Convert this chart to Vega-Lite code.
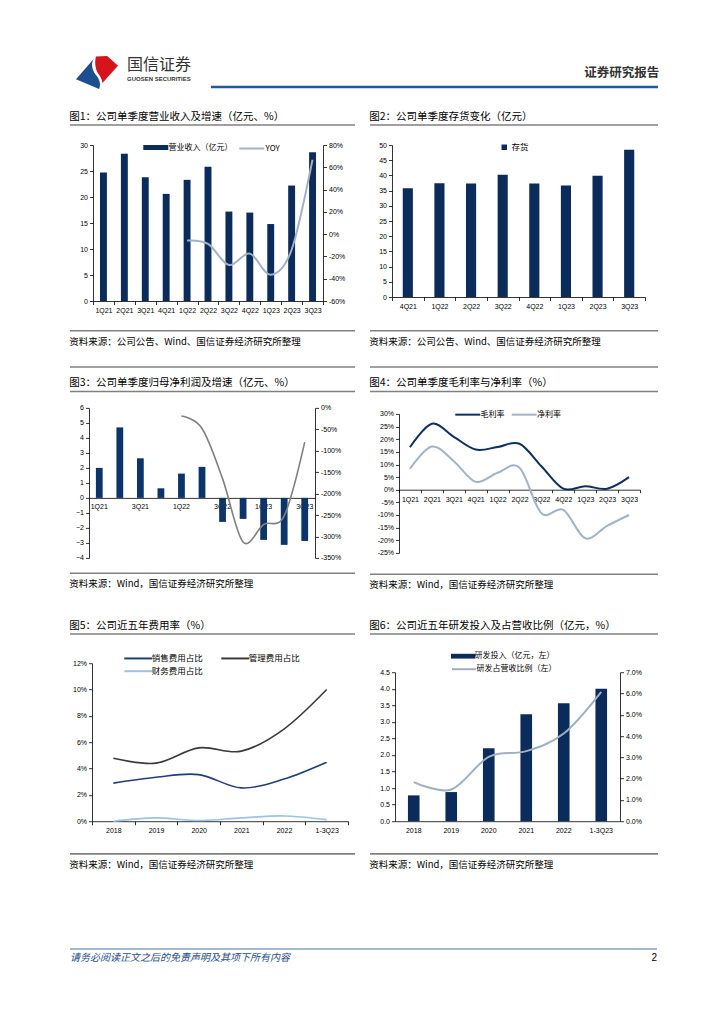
{
"$schema": "https://vega.github.io/schema/vega-lite/v6.json",
"padding": {"left": 69, "top": 55, "right": 10, "bottom": 10},
"config": {
 "view": {"stroke": null},
 "font": "Noto Sans CJK SC",
 "title": {"anchor": "start", "font": "Noto Sans CJK SC", "fontSize": 10.5, "fontWeight": "normal", "color": "#000", "offset": 2},
 "axis": {"labelFont": "Liberation Sans", "labelFontSize": 7, "labelColor": "#000", "domainColor": "#000", "tickColor": "#000", "domainWidth": 0.8, "tickWidth": 0.8, "tickSize": 3.5, "labelPadding": 2, "grid": false, "labelAngle": 0},
 "legend": {"labelFont": "Noto Sans CJK SC", "labelFontSize": 8, "labelColor": "#000", "padding": 0, "labelOffset": 3}
},
"datasets": {
 "logo": [{"part": "blue"}, {"part": "red"}],
 "c1": [
  {"q": "1Q21", "rev": 24.7}, {"q": "2Q21", "rev": 28.3}, {"q": "3Q21", "rev": 23.8}, {"q": "4Q21", "rev": 20.6},
  {"q": "1Q22", "rev": 23.3, "yoy": -5.7}, {"q": "2Q22", "rev": 25.8, "yoy": -8.8}, {"q": "3Q22", "rev": 17.2, "yoy": -27.7},
  {"q": "4Q22", "rev": 17.0, "yoy": -17.5}, {"q": "1Q23", "rev": 14.8, "yoy": -36.5}, {"q": "2Q23", "rev": 22.2, "yoy": -14.0},
  {"q": "3Q23", "rev": 28.6, "yoy": 67.0}
 ],
 "c2": [
  {"q": "4Q21", "inv": 35.8}, {"q": "1Q22", "inv": 37.4}, {"q": "2Q22", "inv": 37.3}, {"q": "3Q22", "inv": 40.2},
  {"q": "4Q22", "inv": 37.3}, {"q": "1Q23", "inv": 36.7}, {"q": "2Q23", "inv": 39.9}, {"q": "3Q23", "inv": 48.4}
 ],
 "c3": [
  {"q": "1Q21", "np": 2.0}, {"q": "2Q21", "np": 4.7}, {"q": "3Q21", "np": 2.64}, {"q": "4Q21", "np": 0.64},
  {"q": "1Q22", "np": 1.62, "g": -19}, {"q": "2Q22", "np": 2.07, "g": -48}, {"q": "3Q22", "np": -1.6, "g": -165},
  {"q": "4Q22", "np": -1.4, "g": -313}, {"q": "1Q23", "np": -2.8, "g": -272}, {"q": "2Q23", "np": -3.13, "g": -252},
  {"q": "3Q23", "np": -2.87, "g": -80}
 ],
 "c4": [
  {"q": "1Q21", "s": "毛利率", "v": 16.8}, {"q": "2Q21", "s": "毛利率", "v": 26.1}, {"q": "3Q21", "s": "毛利率", "v": 20.9},
  {"q": "4Q21", "s": "毛利率", "v": 15.9}, {"q": "1Q22", "s": "毛利率", "v": 16.9}, {"q": "2Q22", "s": "毛利率", "v": 18.2},
  {"q": "3Q22", "s": "毛利率", "v": 9.3}, {"q": "4Q22", "s": "毛利率", "v": 0.4}, {"q": "1Q23", "s": "毛利率", "v": 1.4},
  {"q": "2Q23", "s": "毛利率", "v": 0.4}, {"q": "3Q23", "s": "毛利率", "v": 5.0},
  {"q": "1Q21", "s": "净利率", "v": 8.3}, {"q": "2Q21", "s": "净利率", "v": 17.1}, {"q": "3Q21", "s": "净利率", "v": 11.3},
  {"q": "4Q21", "s": "净利率", "v": 3.1}, {"q": "1Q22", "s": "净利率", "v": 6.7}, {"q": "2Q22", "s": "净利率", "v": 8.7},
  {"q": "3Q22", "s": "净利率", "v": -9.3}, {"q": "4Q22", "s": "净利率", "v": -8.0}, {"q": "1Q23", "s": "净利率", "v": -19.2},
  {"q": "2Q23", "s": "净利率", "v": -14.3}, {"q": "3Q23", "s": "净利率", "v": -10.0}
 ],
 "c5": [
  {"yr": "2018", "s": "销售费用占比", "v": 2.89}, {"yr": "2019", "s": "销售费用占比", "v": 3.34}, {"yr": "2020", "s": "销售费用占比", "v": 3.54},
  {"yr": "2021", "s": "销售费用占比", "v": 2.53}, {"yr": "2022", "s": "销售费用占比", "v": 3.2}, {"yr": "1-3Q23", "s": "销售费用占比", "v": 4.48},
  {"yr": "2018", "s": "管理费用占比", "v": 4.78}, {"yr": "2019", "s": "管理费用占比", "v": 4.41}, {"yr": "2020", "s": "管理费用占比", "v": 5.57},
  {"yr": "2021", "s": "管理费用占比", "v": 5.32}, {"yr": "2022", "s": "管理费用占比", "v": 7.0}, {"yr": "1-3Q23", "s": "管理费用占比", "v": 10.0},
  {"yr": "2018", "s": "财务费用占比", "v": 0.0}, {"yr": "2019", "s": "财务费用占比", "v": 0.25}, {"yr": "2020", "s": "财务费用占比", "v": 0.05},
  {"yr": "2021", "s": "财务费用占比", "v": 0.25}, {"yr": "2022", "s": "财务费用占比", "v": 0.4}, {"yr": "1-3Q23", "s": "财务费用占比", "v": 0.12}
 ],
 "c6": [
  {"yr": "2018", "rd": 0.78, "r": 1.84}, {"yr": "2019", "rd": 0.88, "r": 1.49}, {"yr": "2020", "rd": 2.2, "r": 3.02},
  {"yr": "2021", "rd": 3.23, "r": 3.29}, {"yr": "2022", "rd": 3.56, "r": 4.12}, {"yr": "1-3Q23", "rd": 4.0, "r": 6.08}
 ]
},
"spacing": 21,
"align": "none",
"resolve": {"scale": {"color": "independent", "stroke": "independent", "shape": "independent"}, "legend": {"color": "independent", "stroke": "independent", "shape": "independent"}},
"vconcat": [
 {"hconcat": [
   {"width": 54, "height": 33, "data": {"name": "logo"},
    "mark": {"type": "point", "filled": true, "size": 1764, "opacity": 1, "strokeWidth": 0},
    "encoding": {
     "shape": {"field": "part", "type": "nominal", "legend": null, "scale": {"domain": ["blue", "red"], "range": ["M-1,0.32L-0.14,-0.67C-0.3,-0.45,-0.25,-0.15,-0.05,0.12C0.12,0.32,0.2,0.55,0.1,0.79Z", "M-0.05,-0.76L0.48,-0.79L0.58,-0.7L1,-0.32L0.26,0.5C0.24,0.3,0.14,0.15,0.04,0.02C-0.08,-0.18,-0.12,-0.5,-0.05,-0.76Z"]}},
     "color": {"field": "part", "type": "nominal", "legend": null, "scale": {"domain": ["blue", "red"], "range": ["#1b4f8e", "#d7141c"]}}
    }},
   {"width": 79, "height": 33, "data": {"values": [{"v": 0}]},
    "mark": {"type": "rule", "opacity": 0},
    "encoding": {"y": {"field": "v", "type": "quantitative", "scale": {"domain": [0, 1]}, "axis": null}},
    "title": {"text": "国信证券", "subtitle": "GUOSEN SECURITIES", "anchor": "start", "offset": -26, "fontSize": 16, "color": "#333", "subtitleFont": "Liberation Sans", "subtitleFontSize": 6, "subtitleFontWeight": "bold", "subtitleColor": "#333", "subtitlePadding": 3}},
   {"width": 447, "height": 31, "data": {"values": [{"v": 0}]},
    "mark": {"type": "rule", "color": "#1f5a96", "strokeWidth": 2.5},
    "encoding": {"y": {"field": "v", "type": "quantitative", "scale": {"domain": [0, 1]}, "axis": null}},
    "title": {"text": "证券研究报告", "anchor": "end", "offset": -23, "fontSize": 12.5, "fontWeight": "bold", "color": "#333"}}
  ], "spacing": 3, "align": "none",
  "resolve": {"scale": {"color": "independent", "stroke": "independent", "shape": "independent"}, "legend": {"color": "independent", "stroke": "independent", "shape": "independent"}}},
 {"spacing": 19, "align": "none",
  "resolve": {"scale": {"color": "independent", "stroke": "independent", "shape": "independent"}, "legend": {"color": "independent", "stroke": "independent", "shape": "independent"}},
  "vconcat": [
  {"spacing": 13, "align": "none",
   "resolve": {"scale": {"color": "independent", "stroke": "independent", "shape": "independent"}, "legend": {"color": "independent", "stroke": "independent", "shape": "independent"}},
   "hconcat": [
   {"spacing": 15, "align": "none",
    "resolve": {"scale": {"color": "independent", "stroke": "independent", "shape": "independent"}, "legend": {"color": "independent", "stroke": "independent", "shape": "independent"}},
    "vconcat": [
    {"width": 285, "height": 1, "data": {"values": [{"v": 0}]}, "mark": {"type": "rule", "color": "#808080", "strokeWidth": 1.6},
     "encoding": {"y": {"field": "v", "type": "quantitative", "scale": {"domain": [0, 1]}, "axis": null}},
     "title": {"text": "图1：公司单季度营业收入及增速（亿元、%）"}},
    {"spacing": 15.7, "align": "none",
     "resolve": {"scale": {"color": "independent", "stroke": "independent", "shape": "independent"}, "legend": {"color": "independent", "stroke": "independent", "shape": "independent"}},
     "vconcat": [
     {"hconcat": [
      {"width": 1, "height": 1, "data": {"values": [{"v": 0}]}, "mark": {"type": "rule", "opacity": 0},
       "encoding": {"y": {"field": "v", "type": "quantitative", "scale": {"domain": [0, 1]}, "axis": null}}},
      {"width": 230, "height": 156, "data": {"name": "c1"},
      "layer": [
       {"mark": {"type": "bar", "width": {"band": 0.33}},
        "encoding": {
         "x": {"field": "q", "type": "nominal", "sort": null, "title": null, "scale": {"paddingInner": 0, "paddingOuter": 0}, "axis": {"tickBand": "extent", "labelAngle": 0}},
         "y": {"field": "rev", "type": "quantitative", "title": null, "scale": {"domain": [0, 30]}, "axis": {"values": [0, 5, 10, 15, 20, 25, 30], "minExtent": 22}},
         "color": {"datum": "营业收入（亿元）", "scale": {"range": ["#0b2b5b"]}, "legend": {"orient": "none", "legendX": 58.3, "legendY": -2, "title": null, "symbolType": "M-3,-0.6L3,-0.6L3,0.6L-3,0.6Z", "symbolSize": 69.4, "symbolStrokeWidth": 0, "labelOffset": 8.3}}
        }},
       {"mark": {"type": "line", "interpolate": "cardinal", "strokeWidth": 2},
        "encoding": {
         "x": {"field": "q", "type": "nominal", "sort": null, "title": null, "bandPosition": 0.5},
         "y": {"field": "yoy", "type": "quantitative", "title": null, "scale": {"domain": [-60, 80]}, "axis": {"orient": "right", "values": [-60, -40, -20, 0, 20, 40, 60, 80], "labelExpr": "datum.value + '%'"}},
         "stroke": {"datum": "YOY", "scale": {"range": ["#a3b2c3"]}, "legend": {"orient": "none", "legendX": 153.3, "legendY": -2, "title": null, "symbolType": "M-3,0L3,0", "symbolSize": 69.4, "symbolStrokeWidth": 2, "labelOffset": 8.3}}
        }}
      ],
      "resolve": {"scale": {"y": "independent"}}}
     ], "spacing": 0, "align": "none",
     "resolve": {"scale": {"color": "independent", "stroke": "independent", "shape": "independent"}, "legend": {"color": "independent", "stroke": "independent", "shape": "independent"}}},
     {"width": 285, "height": 1, "data": {"values": [{"v": 1}]}, "mark": {"type": "rule", "color": "#808080", "strokeWidth": 1.6},
      "encoding": {"y": {"field": "v", "type": "quantitative", "scale": {"domain": [0, 1]}, "axis": null}},
      "title": {"text": "资料来源：公司公告、Wind、国信证券经济研究所整理", "orient": "bottom", "offset": 5, "fontSize": 9.5}}
    ]}
   ]},
   {"spacing": 15, "align": "none",
    "resolve": {"scale": {"color": "independent", "stroke": "independent", "shape": "independent"}, "legend": {"color": "independent", "stroke": "independent", "shape": "independent"}},
    "vconcat": [
    {"width": 288, "height": 1, "data": {"values": [{"v": 0}]}, "mark": {"type": "rule", "color": "#808080", "strokeWidth": 1.6},
     "encoding": {"y": {"field": "v", "type": "quantitative", "scale": {"domain": [0, 1]}, "axis": null}},
     "title": {"text": "图2：公司单季度存货变化（亿元）"}},
    {"spacing": 19.7, "align": "none",
     "resolve": {"scale": {"color": "independent", "stroke": "independent", "shape": "independent"}, "legend": {"color": "independent", "stroke": "independent", "shape": "independent"}},
     "vconcat": [
     {"hconcat": [
      {"width": 1, "height": 1, "data": {"values": [{"v": 0}]}, "mark": {"type": "rule", "opacity": 0},
       "encoding": {"y": {"field": "v", "type": "quantitative", "scale": {"domain": [0, 1]}, "axis": null}}},
      {"width": 253, "height": 152, "data": {"name": "c2"},
      "mark": {"type": "bar", "width": {"band": 0.32}},
      "encoding": {
       "x": {"field": "q", "type": "nominal", "sort": null, "title": null, "scale": {"paddingInner": 0, "paddingOuter": 0}, "axis": {"tickBand": "extent", "labelAngle": 0}},
       "y": {"field": "inv", "type": "quantitative", "title": null, "scale": {"domain": [0, 50]}, "axis": {"values": [0, 5, 10, 15, 20, 25, 30, 35, 40, 45, 50], "minExtent": 21}},
       "color": {"datum": "存货", "scale": {"range": ["#0b2b5b"]}, "legend": {"orient": "none", "legendX": 108, "legendY": -2, "title": null, "symbolType": "square", "symbolSize": 30, "symbolStrokeWidth": 0, "labelFontSize": 8.5}}
      }}
     ], "spacing": 0, "align": "none",
     "resolve": {"scale": {"color": "independent", "stroke": "independent", "shape": "independent"}, "legend": {"color": "independent", "stroke": "independent", "shape": "independent"}}},
     {"width": 288, "height": 1, "data": {"values": [{"v": 1}]}, "mark": {"type": "rule", "color": "#808080", "strokeWidth": 1.6},
      "encoding": {"y": {"field": "v", "type": "quantitative", "scale": {"domain": [0, 1]}, "axis": null}},
      "title": {"text": "资料来源：公司公告、Wind、国信证券经济研究所整理", "orient": "bottom", "offset": 5, "fontSize": 9.5}}
    ]}
   ]}
  ]},
  {"spacing": 30, "align": "none",
   "resolve": {"scale": {"color": "independent", "stroke": "independent", "shape": "independent"}, "legend": {"color": "independent", "stroke": "independent", "shape": "independent"}},
   "vconcat": [
   {"spacing": 13, "align": "none",
    "resolve": {"scale": {"color": "independent", "stroke": "independent", "shape": "independent"}, "legend": {"color": "independent", "stroke": "independent", "shape": "independent"}},
    "hconcat": [
    {"spacing": 9.5, "align": "none", "vconcat": [
     {"width": 285, "height": 1, "data": {"values": [{"v": 1}]}, "mark": {"type": "rule", "color": "#808080", "strokeWidth": 1.6},
      "encoding": {"y": {"field": "v", "type": "quantitative", "scale": {"domain": [0, 1]}, "axis": null}}},
     {"spacing": 11.4, "align": "none", "vconcat": [
      {"width": 285, "height": 1, "data": {"values": [{"v": 0}]}, "mark": {"type": "rule", "color": "#808080", "strokeWidth": 1.6},
       "encoding": {"y": {"field": "v", "type": "quantitative", "scale": {"domain": [0, 1]}, "axis": null}},
       "title": {"text": "图3：公司单季度归母净利润及增速（亿元、%）"}},
      {"spacing": 11.4, "align": "none", "vconcat": [
       {"hconcat": [
        {"width": 1, "height": 1, "data": {"values": [{"v": 0}]}, "mark": {"type": "rule", "opacity": 0},
         "encoding": {"y": {"field": "v", "type": "quantitative", "scale": {"domain": [0, 1]}, "axis": null}}},
        {"width": 226, "height": 150, "data": {"name": "c3"},
        "layer": [
         {"mark": {"type": "bar", "width": {"band": 0.33}, "color": "#0c3468"},
          "encoding": {
           "x": {"field": "q", "type": "nominal", "sort": null, "title": null, "scale": {"paddingInner": 0, "paddingOuter": 0}, "axis": {"offset": -60, "ticks": false, "labelPadding": 5, "values": ["1Q21", "3Q21", "1Q22", "3Q22", "1Q23", "3Q23"], "labelAngle": 0}},
           "y": {"field": "np", "type": "quantitative", "title": null, "scale": {"domain": [-4, 6]}, "axis": {"values": [-4, -3, -2, -1, 0, 1, 2, 3, 4, 5, 6], "minExtent": 18}}
          }},
         {"mark": {"type": "line", "interpolate": "cardinal", "strokeWidth": 1.6, "color": "#808080"},
          "encoding": {
           "x": {"field": "q", "type": "nominal", "sort": null, "title": null, "bandPosition": 0.5},
           "y": {"field": "g", "type": "quantitative", "title": null, "scale": {"domain": [-350, 0]}, "axis": {"orient": "right", "values": [-350, -300, -250, -200, -150, -100, -50, 0], "labelExpr": "datum.value + '%'"}}
          }}
        ],
        "resolve": {"scale": {"y": "independent"}}}
       ], "spacing": 0, "align": "none"},
       {"width": 285, "height": 1, "data": {"values": [{"v": 1}]}, "mark": {"type": "rule", "color": "#808080", "strokeWidth": 1.6},
        "encoding": {"y": {"field": "v", "type": "quantitative", "scale": {"domain": [0, 1]}, "axis": null}},
        "title": {"text": "资料来源：Wind，国信证券经济研究所整理", "orient": "bottom", "offset": 5, "fontSize": 9.5}}
      ]}
     ]}
    ]},
    {"spacing": 9.5, "align": "none",
     "resolve": {"scale": {"color": "independent", "stroke": "independent", "shape": "independent"}, "legend": {"color": "independent", "stroke": "independent", "shape": "independent"}},
     "vconcat": [
     {"width": 288, "height": 1, "data": {"values": [{"v": 1}]}, "mark": {"type": "rule", "color": "#808080", "strokeWidth": 1.6},
      "encoding": {"y": {"field": "v", "type": "quantitative", "scale": {"domain": [0, 1]}, "axis": null}}},
     {"spacing": 16.4, "align": "none",
      "resolve": {"scale": {"color": "independent", "stroke": "independent", "shape": "independent"}, "legend": {"color": "independent", "stroke": "independent", "shape": "independent"}},
      "vconcat": [
      {"width": 288, "height": 1, "data": {"values": [{"v": 0}]}, "mark": {"type": "rule", "color": "#808080", "strokeWidth": 1.6},
       "encoding": {"y": {"field": "v", "type": "quantitative", "scale": {"domain": [0, 1]}, "axis": null}},
       "title": {"text": "图4：公司单季度毛利率与净利率（%）"}},
      {"spacing": 17.4, "align": "none",
       "resolve": {"scale": {"color": "independent", "stroke": "independent", "shape": "independent"}, "legend": {"color": "independent", "stroke": "independent", "shape": "independent"}},
       "vconcat": [
       {"hconcat": [
        {"width": 1, "height": 1, "data": {"values": [{"v": 0}]}, "mark": {"type": "rule", "opacity": 0},
         "encoding": {"y": {"field": "v", "type": "quantitative", "scale": {"domain": [0, 1]}, "axis": null}}},
        {"width": 241, "height": 139, "data": {"name": "c4"},
        "mark": {"type": "line", "interpolate": "cardinal", "strokeWidth": 2},
        "encoding": {
         "x": {"field": "q", "type": "nominal", "sort": null, "title": null, "bandPosition": 0.5, "scale": {"type": "band", "paddingInner": 0, "paddingOuter": 0}, "axis": {"offset": -63.2, "tickBand": "extent", "tickSize": 3, "labelPadding": 3, "labelAngle": 0}},
         "y": {"field": "v", "type": "quantitative", "title": null, "scale": {"domain": [-25, 30]}, "axis": {"values": [-25, -20, -15, -10, -5, 0, 5, 10, 15, 20, 25, 30], "labelExpr": "datum.value + '%'", "minExtent": 28}},
         "color": {"field": "s", "type": "nominal", "scale": {"domain": ["毛利率", "净利率"], "range": ["#0e2f5f", "#a2b3c5"]}, "legend": {"orient": "none", "legendX": 63.3, "legendY": -5, "title": null, "direction": "horizontal", "columnPadding": 2.4, "symbolType": "M-3,0L3,0", "symbolSize": 69.4, "symbolStrokeWidth": 2, "labelOffset": 7.3}}
        }}
       ], "spacing": 0, "align": "none",
       "resolve": {"scale": {"color": "independent", "stroke": "independent", "shape": "independent"}, "legend": {"color": "independent", "stroke": "independent", "shape": "independent"}}},
       {"width": 288, "height": 1, "data": {"values": [{"v": 1}]}, "mark": {"type": "rule", "color": "#808080", "strokeWidth": 1.6},
        "encoding": {"y": {"field": "v", "type": "quantitative", "scale": {"domain": [0, 1]}, "axis": null}},
        "title": {"text": "资料来源：Wind，国信证券经济研究所整理", "orient": "bottom", "offset": 5, "fontSize": 9.5}}
      ]}
     ]}
    ]}
   ]},
   {"spacing": 78, "align": "none",
    "resolve": {"scale": {"color": "independent", "stroke": "independent", "shape": "independent"}, "legend": {"color": "independent", "stroke": "independent", "shape": "independent"}},
    "vconcat": [
    {"spacing": 13, "align": "none",
     "resolve": {"scale": {"color": "independent", "stroke": "independent", "shape": "independent"}, "legend": {"color": "independent", "stroke": "independent", "shape": "independent"}},
     "hconcat": [
     {"spacing": 17.2, "align": "none",
      "resolve": {"scale": {"color": "independent", "stroke": "independent", "shape": "independent"}, "legend": {"color": "independent", "stroke": "independent", "shape": "independent"}},
      "vconcat": [
      {"width": 285, "height": 1, "data": {"values": [{"v": 0}]}, "mark": {"type": "rule", "color": "#808080", "strokeWidth": 1.6},
       "encoding": {"y": {"field": "v", "type": "quantitative", "scale": {"domain": [0, 1]}, "axis": null}},
       "title": {"text": "图5：公司近五年费用率（%）"}},
      {"spacing": 18.7, "align": "none",
       "resolve": {"scale": {"color": "independent", "stroke": "independent", "shape": "independent"}, "legend": {"color": "independent", "stroke": "independent", "shape": "independent"}},
       "vconcat": [
       {"hconcat": [
        {"width": 1, "height": 1, "data": {"values": [{"v": 0}]}, "mark": {"type": "rule", "opacity": 0},
         "encoding": {"y": {"field": "v", "type": "quantitative", "scale": {"domain": [0, 1]}, "axis": null}}},
        {"width": 256, "height": 158, "data": {"name": "c5"},
        "mark": {"type": "line", "interpolate": "cardinal", "strokeWidth": 1.6},
        "encoding": {
         "x": {"field": "yr", "type": "nominal", "sort": null, "title": null, "bandPosition": 0.5, "scale": {"type": "band", "paddingInner": 0, "paddingOuter": 0}, "axis": {"tickBand": "extent", "labelAngle": 0}},
         "y": {"field": "v", "type": "quantitative", "title": null, "scale": {"domain": [0, 12]}, "axis": {"values": [0, 2, 4, 6, 8, 10, 12], "labelExpr": "datum.value + '%'", "minExtent": 21}},
         "color": {"field": "s", "type": "nominal", "scale": {"domain": ["销售费用占比", "管理费用占比", "财务费用占比"], "range": ["#1f3f78", "#3a3a3a", "#9cc3e6"]}, "legend": {"orient": "none", "legendX": 40.3, "legendY": -11, "title": null, "direction": "horizontal", "columns": 2, "columnPadding": 14, "rowPadding": 2, "symbolType": "M-3,0L3,0", "symbolSize": 87, "symbolStrokeWidth": 2, "labelOffset": 7.4, "labelFontSize": 8.5}}
        }}
       ], "spacing": 0, "align": "none",
       "resolve": {"scale": {"color": "independent", "stroke": "independent", "shape": "independent"}, "legend": {"color": "independent", "stroke": "independent", "shape": "independent"}}},
       {"width": 285, "height": 1, "data": {"values": [{"v": 1}]}, "mark": {"type": "rule", "color": "#808080", "strokeWidth": 1.6},
        "encoding": {"y": {"field": "v", "type": "quantitative", "scale": {"domain": [0, 1]}, "axis": null}},
        "title": {"text": "资料来源：Wind，国信证券经济研究所整理", "orient": "bottom", "offset": 5, "fontSize": 9.5}}
      ]}
     ]},
     {"spacing": 17.2, "align": "none",
      "resolve": {"scale": {"color": "independent", "stroke": "independent", "shape": "independent"}, "legend": {"color": "independent", "stroke": "independent", "shape": "independent"}},
      "vconcat": [
      {"width": 288, "height": 1, "data": {"values": [{"v": 0}]}, "mark": {"type": "rule", "color": "#808080", "strokeWidth": 1.6},
       "encoding": {"y": {"field": "v", "type": "quantitative", "scale": {"domain": [0, 1]}, "axis": null}},
       "title": {"text": "图6：公司近五年研发投入及占营收比例（亿元，%）"}},
      {"spacing": 18.7, "align": "none",
       "resolve": {"scale": {"color": "independent", "stroke": "independent", "shape": "independent"}, "legend": {"color": "independent", "stroke": "independent", "shape": "independent"}},
       "vconcat": [
       {"hconcat": [
        {"width": 1, "height": 1, "data": {"values": [{"v": 0}]}, "mark": {"type": "rule", "opacity": 0},
         "encoding": {"y": {"field": "v", "type": "quantitative", "scale": {"domain": [0, 1]}, "axis": null}}},
        {"width": 225, "height": 149, "data": {"name": "c6"},
        "layer": [
         {"mark": {"type": "bar", "width": {"band": 0.31}},
          "encoding": {
           "x": {"field": "yr", "type": "nominal", "sort": null, "title": null, "scale": {"paddingInner": 0, "paddingOuter": 0}, "axis": {"ticks": false, "labelPadding": 5.5, "labelAngle": 0}},
           "y": {"field": "rd", "type": "quantitative", "title": null, "scale": {"domain": [0, 4.5]}, "axis": {"values": [0, 0.5, 1, 1.5, 2, 2.5, 3, 3.5, 4, 4.5], "format": ".1f", "minExtent": 24}},
           "color": {"datum": "研发投入（亿元，左）", "scale": {"range": ["#0b2b5b"]}, "legend": {"orient": "none", "legendX": 64, "legendY": -20, "title": null, "symbolType": "M-3,-0.6L3,-0.6L3,0.6L-3,0.6Z", "symbolSize": 64, "symbolStrokeWidth": 0, "labelOffset": 7.5}}
          }},
         {"mark": {"type": "line", "interpolate": "cardinal", "strokeWidth": 2},
          "encoding": {
           "x": {"field": "yr", "type": "nominal", "sort": null, "title": null, "bandPosition": 0.5},
           "y": {"field": "r", "type": "quantitative", "title": null, "scale": {"domain": [0, 7]}, "axis": {"orient": "right", "values": [0, 1, 2, 3, 4, 5, 6, 7], "labelExpr": "format(datum.value, '.1f') + '%'"}},
           "stroke": {"datum": "研发占营收比例（左）", "scale": {"range": ["#9eafc2"]}, "legend": {"orient": "none", "legendX": 64, "legendY": -8, "title": null, "symbolType": "M-3,0L3,0", "symbolSize": 64, "symbolStrokeWidth": 2, "labelOffset": 7.5}}
          }}
        ],
        "resolve": {"scale": {"y": "independent"}}}
       ], "spacing": 0, "align": "none",
       "resolve": {"scale": {"color": "independent", "stroke": "independent", "shape": "independent"}, "legend": {"color": "independent", "stroke": "independent", "shape": "independent"}}},
       {"width": 288, "height": 1, "data": {"values": [{"v": 1}]}, "mark": {"type": "rule", "color": "#808080", "strokeWidth": 1.6},
        "encoding": {"y": {"field": "v", "type": "quantitative", "scale": {"domain": [0, 1]}, "axis": null}},
        "title": {"text": "资料来源：Wind，国信证券经济研究所整理", "orient": "bottom", "offset": 5, "fontSize": 9.5}}
      ]}
     ]}
    ]},
    {"spacing": 0, "align": "none", "vconcat": [
     {"width": 587, "height": 1, "data": {"values": [{"v": 1}]}, "mark": {"type": "rule", "color": "#4a77a8", "strokeWidth": 1.2},
      "encoding": {"y": {"field": "v", "type": "quantitative", "scale": {"domain": [0, 1]}, "axis": null}}},
     {"hconcat": [
      {"width": 500, "height": 1, "data": {"values": [{"v": 1}]}, "mark": {"type": "rule", "opacity": 0},
       "encoding": {"y": {"field": "v", "type": "quantitative", "scale": {"domain": [0, 1]}, "axis": null}},
       "title": {"text": "请务必阅读正文之后的免责声明及其项下所有内容", "orient": "bottom", "anchor": "start", "offset": 2, "fontSize": 10, "fontStyle": "italic", "color": "#1f4e8c"}},
      {"width": 87, "height": 1, "data": {"values": [{"v": 1}]}, "mark": {"type": "rule", "opacity": 0},
       "encoding": {"y": {"field": "v", "type": "quantitative", "scale": {"domain": [0, 1]}, "axis": null}},
       "title": {"text": "2", "orient": "bottom", "anchor": "end", "offset": 2, "fontSize": 10, "font": "Liberation Sans", "color": "#000"}}
     ], "spacing": 0, "align": "none"}
    ]}
   ]}
  ]}
 ]}
]
}
